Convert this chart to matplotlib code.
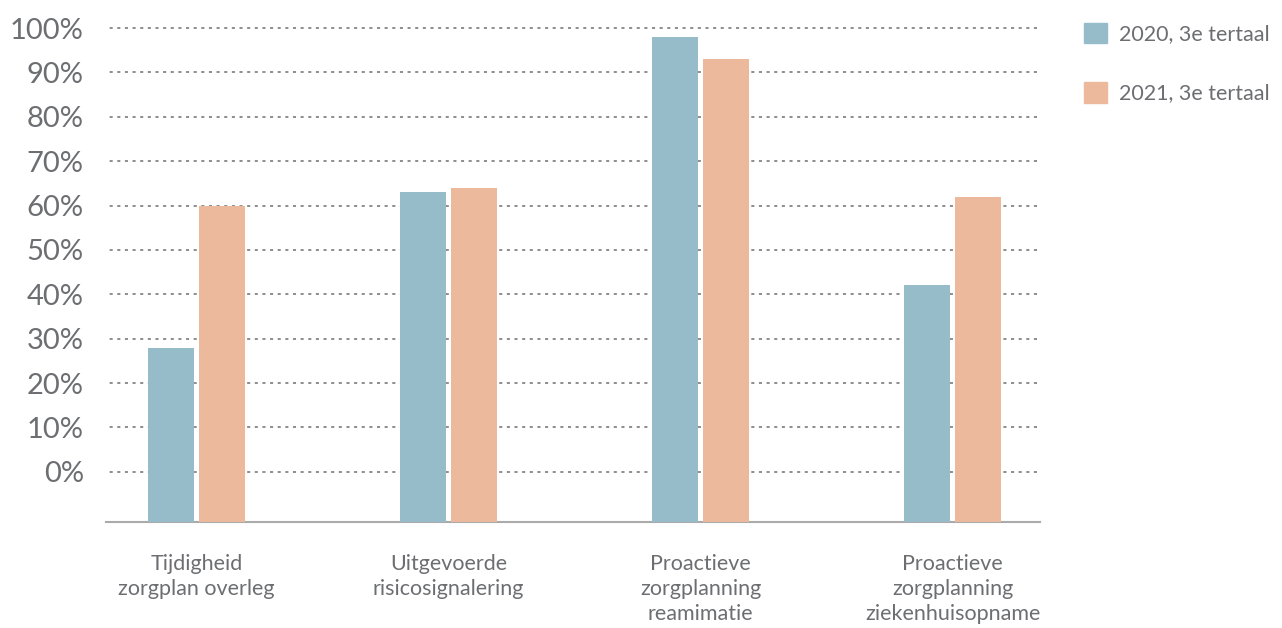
import matplotlib.pyplot as plt
import numpy as np
from matplotlib.patches import Patch

categories = ['Tijdigheid\nzorgplan overleg', 'Uitgevoerde\nrisicosignalering',
              'Proactieve\nzorgplanning\nreamimatie', 'Proactieve\nzorgplanning\nziekenhuisopname']
series_names = ['2020, 3e tertaal', '2021, 3e tertaal']
values_2020 = [28, 63, 98, 42]
values_2021 = [60, 64, 93, 62]
yticks = list(range(0, 101, 10))

blue = '#97bcc9'
orange = '#edb99d'
textcol = '#6d6e71'

plt.rcParams['font.family'] = ['Lato', 'DejaVu Sans']

fig = plt.figure(figsize=(12.82, 6.28), dpi=100)
# axes in pixel positions: left 106, right 1040, top ~24, bottom 522
W, H = 1282, 628
ax = fig.add_axes([106 / W, 1 - 522 / H, (1040 - 106) / W, (522 - 23.6) / H])

ymin, ymax = -11.3, 101
x = np.arange(len(categories))
bw = 0.183
off = 0.101
for v_list, c, sign in [(values_2020, blue, -1), (values_2021, orange, 1)]:
    heights = [v - ymin for v in v_list]
    ax.bar(x + sign * off, heights, width=bw, bottom=ymin, color=c, zorder=3)

ax.set_ylim(ymin, ymax)
ax.set_xlim(-0.359, 3.347)
ax.set_yticks(yticks)
ax.set_yticklabels([f'{t}%' for t in yticks], fontsize=21, color=textcol)
ax.tick_params(axis='y', length=0, pad=16)
for t in yticks:
    ax.axhline(t, color='#6f6f6f', linewidth=1.1, linestyle=(0, (2, 3)), zorder=1, xmin=-0.004)

ax.set_xticks(x)
ax.set_xticklabels(categories, fontsize=15.5, color=textcol, linespacing=1.32, va='top')
ax.tick_params(axis='x', length=0, pad=23)

for s in ['top', 'right', 'left']:
    ax.spines[s].set_visible(False)
ax.spines['bottom'].set_color('#aaaaaa')
ax.spines['bottom'].set_linewidth(1.5)

handles = [Patch(color=blue), Patch(color=orange)]
leg = fig.legend(handles, series_names, loc='upper left', bbox_to_anchor=(1075 / W, 1 - 14 / H),
                 frameon=False, fontsize=15.5, handlelength=1.1, handleheight=1.1,
                 labelspacing=1.75, handletextpad=0.55, borderaxespad=0)
for t in leg.get_texts():
    t.set_color(textcol)

fig.savefig('out.png', dpi=100)
